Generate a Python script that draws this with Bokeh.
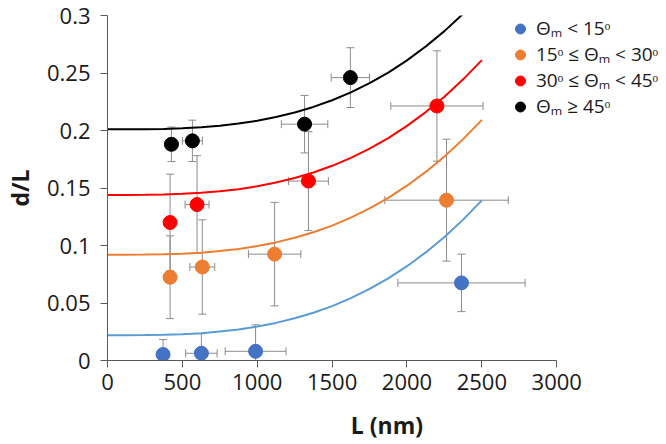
from bokeh.plotting import figure
from bokeh.models import (Range1d, FixedTicker, Whisker, ColumnDataSource, Legend,
                          LegendItem, TeeHead)
from bokeh.embed import file_html
from bokeh.resources import INLINE

# ---------------- data ----------------
series_labels = ["Θₘ < 15ᵒ", "15ᵒ ≤ Θₘ < 30ᵒ", "30ᵒ ≤ Θₘ < 45ᵒ", "Θₘ ≥ 45ᵒ"]

L_blue = [371, 627, 989, 2364]
dL_blue = [0.0052, 0.0063, 0.0080, 0.0675]
xerr_blue = [0, 105, 203, 425]
yerr_blue = [0.013, 0.017, 0.023, 0.025]

L_orange = [418, 633, 1116, 2264]
dL_orange = [0.0724, 0.0813, 0.0925, 0.1394]
xerr_orange = [0, 83, 175, 412]
yerr_orange = [0.036, 0.041, 0.045, 0.053]

L_red = [418, 598, 1342, 2200]
dL_red = [0.120, 0.1356, 0.156, 0.2213]
xerr_red = [0, 80, 133, 308]
yerr_red = [0.042, 0.0425, 0.043, 0.048]

L_black = [427, 567, 1316, 1622]
dL_black = [0.188, 0.191, 0.2055, 0.246]
xerr_black = [0, 67, 155, 128]
yerr_black = [0.015, 0.018, 0.025, 0.026]

# fitted curves
fit_L = [0, 125, 250, 375, 500, 625, 750, 875, 1000, 1125, 1250, 1375, 1500,
         1625, 1750, 1875, 2000, 2125, 2250, 2375, 2500]
fit_blue = [0.022, 0.022, 0.0221, 0.0224, 0.0229, 0.0238, 0.0252, 0.0270, 0.0295,
            0.0327, 0.0367, 0.0415, 0.0473, 0.0542, 0.0622, 0.0714, 0.0820, 0.0940,
            0.1074, 0.1225, 0.1392]
fit_orange = [0.092, 0.092, 0.0921, 0.0924, 0.0929, 0.0938, 0.0952, 0.0970, 0.0995,
              0.1027, 0.1067, 0.1115, 0.1173, 0.1242, 0.1322, 0.1414, 0.1520, 0.1640,
              0.1774, 0.1925, 0.2092]
fit_red = [0.144, 0.144, 0.1441, 0.1444, 0.1449, 0.1458, 0.1472, 0.1490, 0.1515,
           0.1547, 0.1587, 0.1635, 0.1693, 0.1762, 0.1842, 0.1934, 0.2040, 0.2160,
           0.2294, 0.2445, 0.2612]
fit_black = [0.201, 0.201, 0.2011, 0.2014, 0.2019, 0.2028, 0.2042, 0.2060, 0.2085,
             0.2117, 0.2157, 0.2205, 0.2263, 0.2332, 0.2412, 0.2504, 0.2610, 0.2730,
             0.2864, 0.3015, 0.3182]

x_ticks = [0, 500, 1000, 1500, 2000, 2500, 3000]
x_tick_labels = ["0", "500", "1000", "1500", "2000", "2500", "3000"]
y_ticks = [0, 0.05, 0.1, 0.15, 0.2, 0.25, 0.3]
y_tick_labels = ["0", "0.05", "0.1", "0.15", "0.2", "0.25", "0.3"]

# ---------------- styling ----------------
FONT = "Open Sans"
ERR = "#8c8c8c"
AXIS = "#595959"
marker_colors = ["#4472C4", "#ED7D31", "#FF0000", "#000000"]
line_colors = ["#5B9BD5", "#ED7D31", "#FF0000", "#000000"]

p = figure(width=666, height=444, output_backend="svg", toolbar_location=None,
           x_range=Range1d(0, 3733), y_range=Range1d(0, 0.3),
           min_border_left=106, min_border_right=0, min_border_top=15,
           min_border_bottom=84)
p.outline_line_color = None
p.xgrid.visible = False
p.ygrid.visible = False
p.background_fill_color = "white"

for ax in (p.xaxis[0], p.yaxis[0]):
    ax.axis_line_color = AXIS
    ax.major_tick_line_color = AXIS
    ax.minor_tick_line_color = None
    ax.major_tick_in = 0
    ax.major_tick_out = 7
    ax.major_label_text_font = FONT
    ax.major_label_text_font_size = "22px"
    ax.major_label_text_color = "#1a1a1a"
    ax.axis_label_text_font = FONT
    ax.axis_label_text_font_size = "23px"
    ax.axis_label_text_font_style = "bold"
    ax.axis_label_text_color = "#1a1a1a"

p.xaxis.ticker = FixedTicker(ticks=x_ticks)
p.xaxis.major_label_overrides = dict(zip(x_ticks, x_tick_labels))
p.xaxis.bounds = (0, 3000)
p.xaxis.axis_label = "L (nm)"
p.xaxis.major_label_standoff = 6
p.xaxis.axis_label_standoff = 16

p.yaxis.ticker = FixedTicker(ticks=y_ticks)
p.yaxis.major_label_overrides = dict(zip(y_ticks, y_tick_labels))
p.yaxis.axis_label = "d/L"
p.yaxis.major_label_standoff = 10
p.yaxis.axis_label_standoff = 8

series = [
    (L_blue, dL_blue, xerr_blue, yerr_blue, fit_blue),
    (L_orange, dL_orange, xerr_orange, yerr_orange, fit_orange),
    (L_red, dL_red, xerr_red, yerr_red, fit_red),
    (L_black, dL_black, xerr_black, yerr_black, fit_black),
]

for i, (L, v, xe, ye, fit) in enumerate(series):
    p.line(fit_L, fit, line_color=line_colors[i], line_width=2)
    src = ColumnDataSource(dict(
        x=L, y=v,
        xl=[a - b for a, b in zip(L, xe)], xu=[a + b for a, b in zip(L, xe)],
        yl=[max(a - b, 0) for a, b in zip(v, ye)], yu=[a + b for a, b in zip(v, ye)],
    ))
    wy = Whisker(base="x", lower="yl", upper="yu", dimension="height", source=src,
                 line_color=ERR, line_width=1,
                 upper_head=TeeHead(size=8, line_color=ERR, line_width=1),
                 lower_head=TeeHead(size=8, line_color=ERR, line_width=1))
    wx = Whisker(base="y", lower="xl", upper="xu", dimension="width", source=src,
                 line_color=ERR, line_width=1,
                 upper_head=TeeHead(size=8, line_color=ERR, line_width=1),
                 lower_head=TeeHead(size=8, line_color=ERR, line_width=1))
    p.add_layout(wy)
    p.add_layout(wx)

items = []
for i, (L, v, xe, ye, fit) in enumerate(series):
    r = p.scatter(L, v, size=14, marker="circle", fill_color=marker_colors[i],
                  line_color=marker_colors[i])
    items.append(LegendItem(label=series_labels[i], renderers=[r]))

legend = Legend(items=items, location=(398, 241), orientation="vertical",
                glyph_width=30, glyph_height=25, label_height=20, spacing=0,
                padding=0, label_standoff=1, border_line_color=None,
                background_fill_alpha=0, label_text_font=FONT,
                label_text_font_size="19px",
                label_text_color="#1a1a1a", margin=0)
p.add_layout(legend)

open("out.html", "w").write(file_html(p, INLINE))
